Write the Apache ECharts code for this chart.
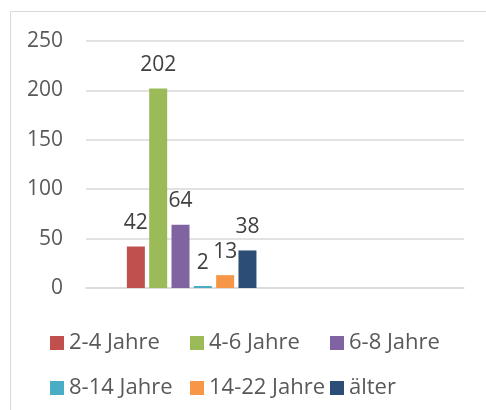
<!DOCTYPE html>
<html>
<head>
<meta charset="utf-8">
<script src="https://cdn.jsdelivr.net/npm/echarts@6/dist/echarts.min.js"></script>
<style>html,body{margin:0;padding:0;background:#fff;}#c{width:486px;height:410px;}</style>
</head>
<body>
<div id="c"></div>
<script>
const categories = ['Gruppe', ''];
const seriesNames = ['2-4 Jahre', '4-6 Jahre', '6-8 Jahre', '8-14 Jahre', '14-22 Jahre', 'älter'];
const seriesValues = [42, 202, 64, 2, 13, 38];
const seriesColors = ['#C0504D', '#9BBB59', '#8064A2', '#4BACC6', '#F79646', '#2C4D75'];
const yTicks = [0, 50, 100, 150, 200, 250];

const FONT = 'Open Sans';
const chart = echarts.init(document.getElementById('c'), null, {renderer: 'canvas'});

const series = [{
  name: '_pad', type: 'bar', barWidth: 18, barGap: '24%', data: categories.map(() => null),
  silent: true
}].concat(seriesNames.map((n, i) => ({
  name: n,
  type: 'bar',
  barWidth: 18,
  barGap: '24%',
  itemStyle: {color: seriesColors[i]},
  data: categories.map((c, k) => k === 0 ? seriesValues[i] : null),
  label: {
    show: true, position: 'top', distance: 13,
    color: '#404040', fontFamily: FONT, fontSize: 21
  }
})));

const legends = seriesNames.map((n, i) => ({
  data: [n], left: 50 + 140 * (i % 3), top: i < 3 ? 332 : 377,
  itemWidth: 14, itemHeight: 14, icon: 'rect', padding: 0,
  textStyle: {color: '#595959', fontFamily: FONT, fontSize: 22}
}));

chart.setOption({
  animation: false,
  graphic: [{
    type: 'rect', shape: {x: 10.5, y: 11.5, width: 520, height: 440},
    style: {fill: 'none', stroke: '#d9d9d9', lineWidth: 1}, silent: true
  }],
  grid: {left: 86, right: 22, top: 41, bottom: 122},
  legend: legends,
  xAxis: {
    type: 'category', data: categories,
    axisLine: {show: true, lineStyle: {color: '#d9d9d9', width: 1.5}},
    axisTick: {show: false}, axisLabel: {show: false}
  },
  yAxis: {
    type: 'value', min: yTicks[0], max: yTicks[yTicks.length - 1], interval: 50,
    axisLine: {show: false}, axisTick: {show: false},
    axisLabel: {color: '#595959', fontFamily: FONT, fontSize: 21, margin: 23},
    splitLine: {lineStyle: {color: '#d9d9d9', width: 1.5}}
  },
  series: series
});
</script>
</body>
</html>
